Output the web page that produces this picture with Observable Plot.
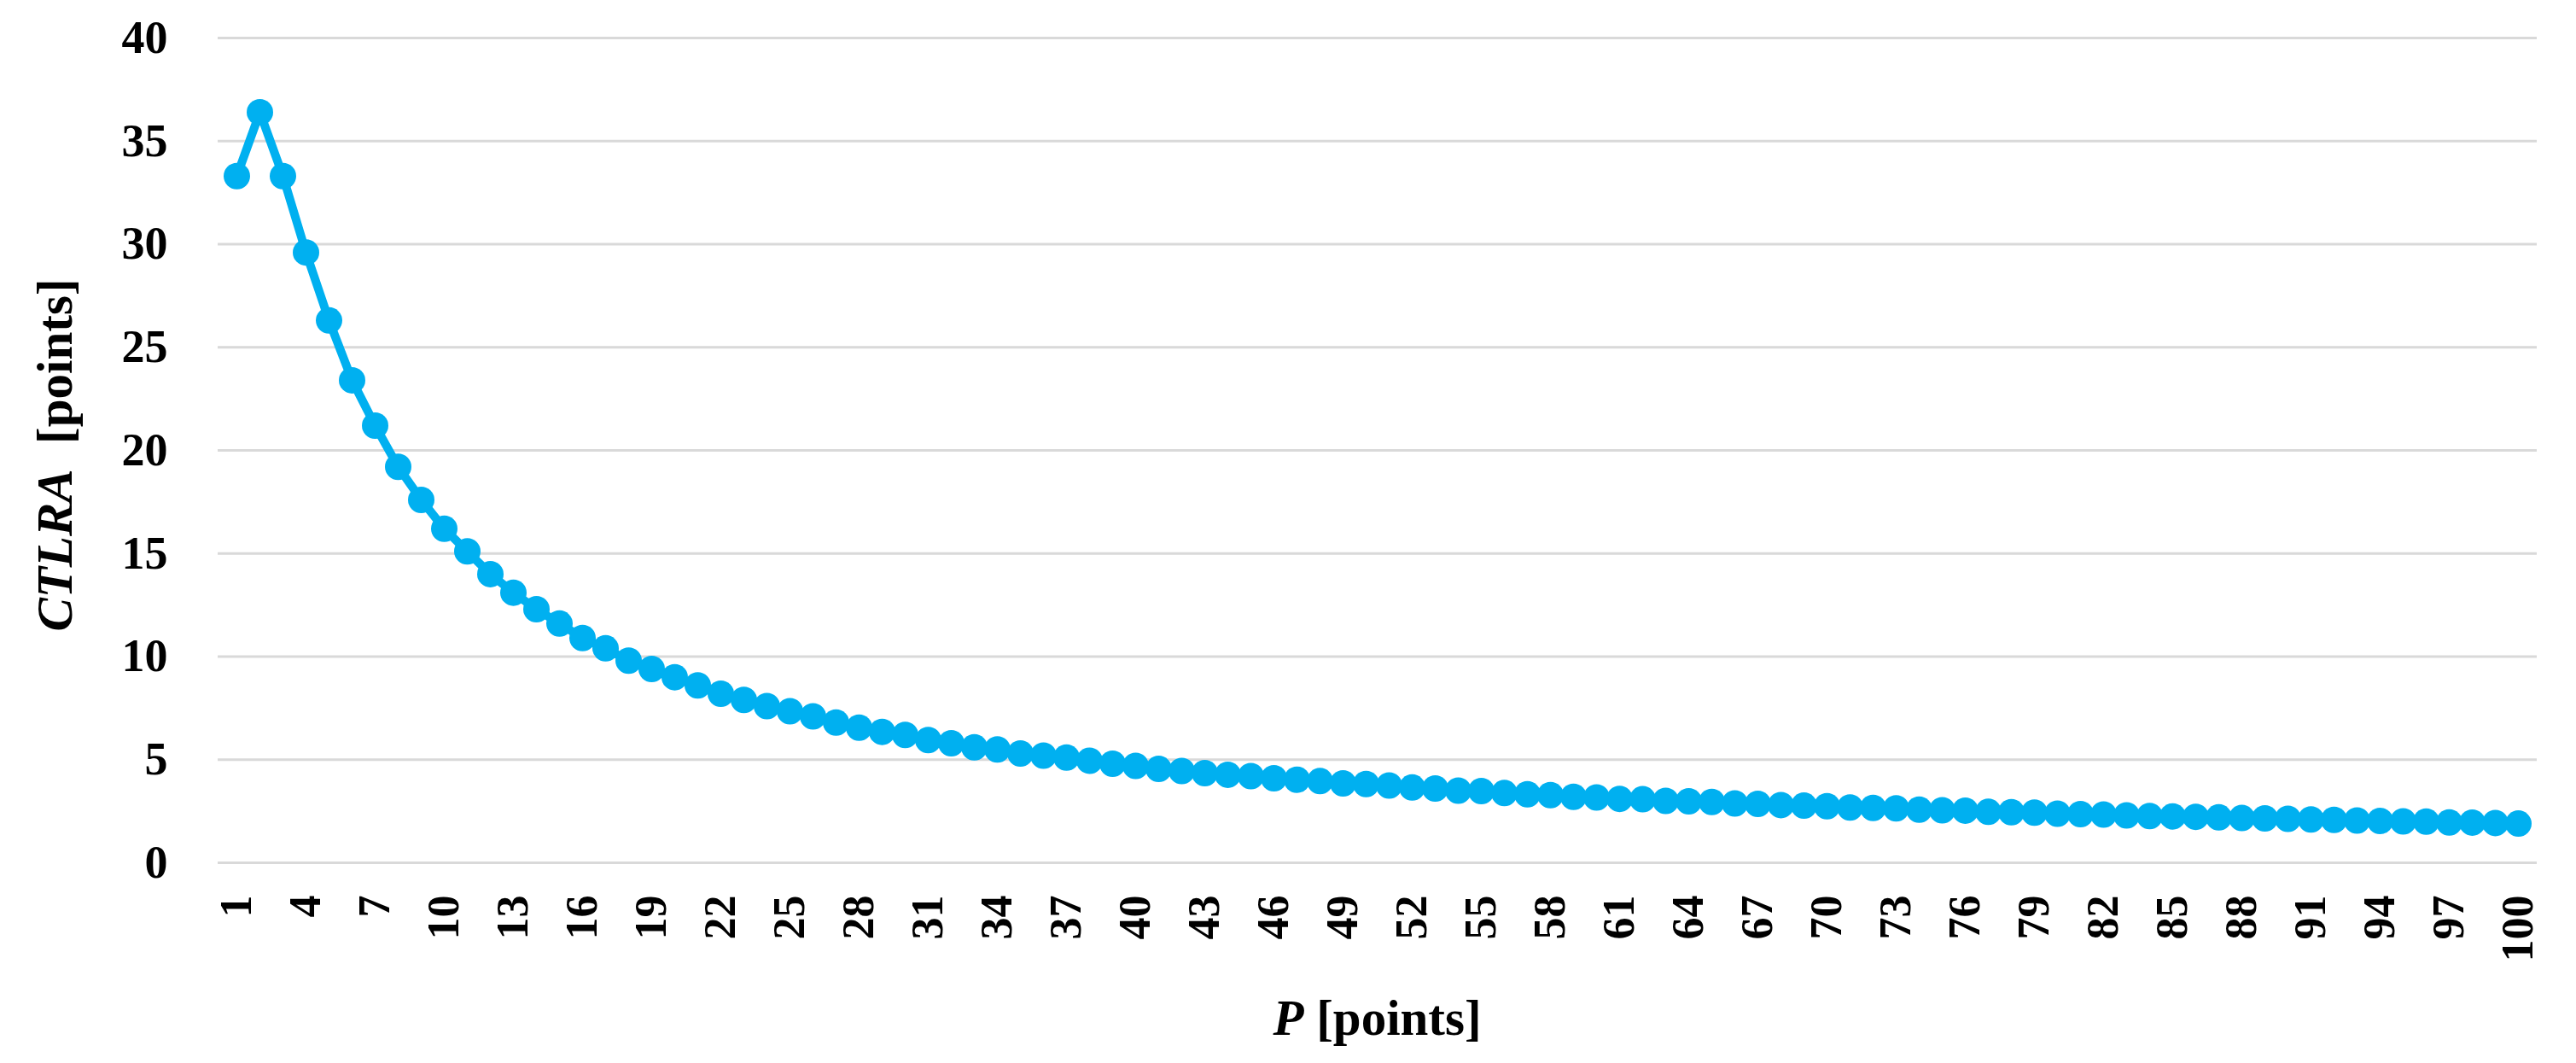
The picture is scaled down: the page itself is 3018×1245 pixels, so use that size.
<!DOCTYPE html>
<html>
<head>
<meta charset="utf-8">
<script src="https://cdn.jsdelivr.net/npm/d3@7"></script>
<script src="https://cdn.jsdelivr.net/npm/@observablehq/plot@0.6"></script>
<style>
  html, body { margin: 0; padding: 0; background: #ffffff; }
  #chart { width: 3018px; height: 1245px; }
</style>
</head>
<body>
<div id="chart"></div>
<script>
// ---- Data ----
const pValues = d3.range(1, 101); // P [points], categories 1..100
const ctlraValues = [
  33.3, 36.4, 33.3, 29.6, 26.3, 23.4, 21.2, 19.2, 17.6, 16.2,
  15.1, 14.0, 13.1, 12.3, 11.6, 10.9, 10.4, 9.8, 9.4, 9.0,
  8.6, 8.2, 7.9, 7.6, 7.35, 7.1, 6.8, 6.55, 6.35, 6.2,
  5.95, 5.8, 5.6, 5.5, 5.3, 5.2, 5.1, 4.95, 4.8, 4.7,
  4.55, 4.45, 4.35, 4.27, 4.2, 4.1, 4.03, 3.96, 3.85, 3.82,
  3.75, 3.65, 3.6, 3.5, 3.48, 3.38, 3.32, 3.28, 3.2, 3.17,
  3.1, 3.08, 3.0, 2.98, 2.95, 2.88, 2.86, 2.8, 2.77, 2.74,
  2.68, 2.66, 2.64, 2.58, 2.55, 2.53, 2.47, 2.45, 2.43, 2.38,
  2.36, 2.34, 2.3, 2.27, 2.25, 2.23, 2.2, 2.17, 2.15, 2.13,
  2.1, 2.08, 2.05, 2.03, 2.01, 2.0, 1.96, 1.95, 1.93, 1.9
];
const yTickValues = [0, 5, 10, 15, 20, 25, 30, 35, 40];
const xTickValues = pValues.filter(p => (p - 1) % 3 === 0); // 1, 4, 7, ..., 100
const xTitleItalic = "P";
const xTitleRest = " [points]";
const yTitleItalic = "CTLRA";
const yTitleRest = "  [points]";

const data = pValues.map((p, i) => ({P: p, CTLRA: ctlraValues[i]}));

const FONT = "'Palatino Linotype', 'Book Antiqua', Palatino, 'Liberation Serif', serif";
const BLUE = "#00B0F0";

const W = 3018, H = 1245;
const mL = 255, mR = 46, mT = 44, mB = 235;

const chart = Plot.plot({
  width: W,
  height: H,
  marginLeft: mL,
  marginRight: mR,
  marginTop: mT,
  marginBottom: mB,
  style: {
    fontFamily: FONT,
    fontWeight: "bold",
    fontSize: "54px",
    background: "#ffffff",
    color: "#000000",
    overflow: "visible"
  },
  x: {type: "point", domain: pValues, padding: 0.5, label: null},
  y: {domain: [0, 40], label: null},
  marks: [
    Plot.ruleY(yTickValues, {stroke: "#d9d9d9", strokeWidth: 3}),
    Plot.axisY({ticks: yTickValues, tickSize: 0, tickPadding: 59, label: null, fontSize: 54, fontWeight: "bold"}),
    Plot.axisX({ticks: xTickValues, tickSize: 0, tickPadding: 38, tickRotate: -90, label: null, fontSize: 52, fontWeight: "bold"}),
    Plot.line(data, {x: "P", y: "CTLRA", stroke: BLUE, strokeWidth: 10, strokeLinejoin: "round"}),
    Plot.dot(data, {x: "P", y: "CTLRA", r: 15.5, fill: BLUE, stroke: "none"})
  ]
});

document.getElementById("chart").appendChild(chart);

// Axis titles with mixed italic / upright runs
const svg = d3.select(chart);
const xCenter = (mL + (W - mR)) / 2;
const xt = svg.append("text")
  .attr("x", xCenter)
  .attr("y", 1212)
  .attr("text-anchor", "middle")
  .attr("font-family", FONT)
  .attr("font-weight", "bold")
  .attr("font-size", 59)
  .attr("fill", "#000");
xt.append("tspan").attr("font-style", "italic").text(xTitleItalic);
xt.append("tspan").style("white-space", "pre").text(xTitleRest);

const yCenter = (mT + (H - mB)) / 2;
const yt = svg.append("text")
  .attr("transform", `translate(84, ${yCenter + 6}) rotate(-90)`)
  .attr("text-anchor", "middle")
  .attr("font-family", FONT)
  .attr("font-weight", "bold")
  .attr("font-size", 59)
  .attr("fill", "#000")
  .style("white-space", "pre");
yt.append("tspan").attr("font-style", "italic").text(yTitleItalic);
yt.append("tspan").text(yTitleRest);
</script>
</body>
</html>
